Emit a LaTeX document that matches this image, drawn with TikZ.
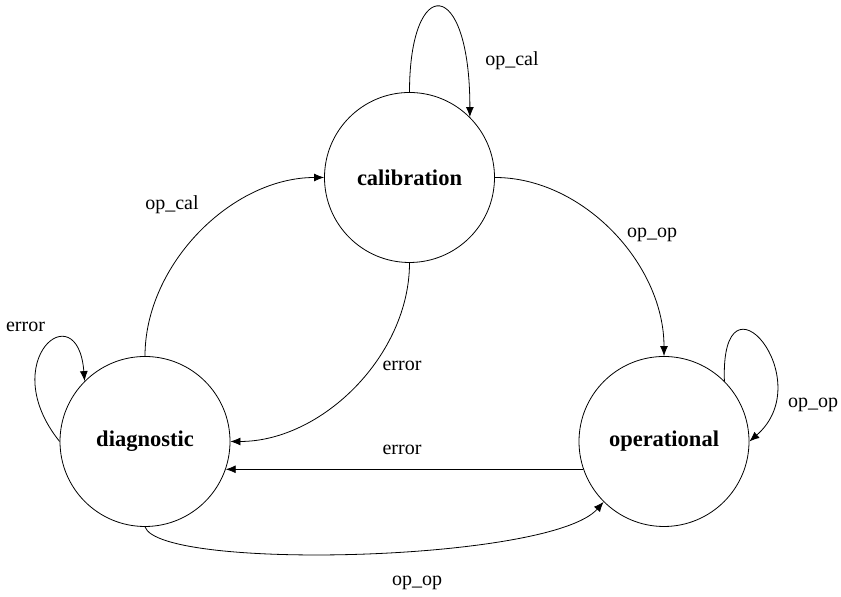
\documentclass[tikz,border=0pt]{standalone}
\usepackage{fontspec}
\setmainfont{Liberation Serif}
\usetikzlibrary{arrows.meta}
\tikzset{
    state/.style={draw,circle,minimum size=85pt,inner sep=0pt,font=\fontsize{11.25}{13.5}\selectfont\bfseries},
    lbl/.style={inner sep=1pt,font=\fontsize{10}{12}\selectfont},
}
\begin{document}
\begin{tikzpicture}[>={Latex[length=5pt,width=4pt]}, x=0.5pt, y=0.5pt]
                \useasboundingbox(0,0)rectangle(841,597);
                \node[state] (cal)  at (409.5,419.5) {calibration};
                \node[state] (diag) at (145,155.5)   {diagnostic};
                \node[state] (oper) at (664,155.5)   {operational};
                % self loops
                \draw[->](cal.north)..controls +(0,118) and +(0,142)..(cal.45);
                \draw[->](diag.west)..controls +(-65,81) and +(-7,89)..(diag.135);
                \draw[->](oper.45)..controls +(-4,120) and +(71,62)..(oper.east);
                % transitions
                \draw[->](cal.east)..controls +(88,0) and +(0,92)..(oper.north);
                \draw[->](diag.north)..controls +(0,92) and +(-92,0)..(cal.west);
                \draw[->](cal.south)..controls +(0,-92) and +(92,0)..(diag.east);
                \draw[->](oper.199)--(diag.341);
                \draw[->](diag.south)..controls +(15,-44) and +(-53,-60)..(oper.225);
                % labels
                \node[lbl] (lcalcal)   at (512,536) {op\_cal};
                \node[lbl] (ldiagcal)  at (172,392) {op\_cal};
                \node[lbl] (lcalop)    at (652,362) {op\_op};
                \node[lbl] (ldiagerr)  at (25.5,270) {error};
                \node[lbl] (lopop)     at (813,192) {op\_op};
                \node[lbl] (lcalerr)   at (402,231) {error};
                \node[lbl] (loperr)    at (402,147) {error};
                \node[lbl] (ldiagop)   at (417,14)  {op\_op};
\end{tikzpicture}
\end{document}
